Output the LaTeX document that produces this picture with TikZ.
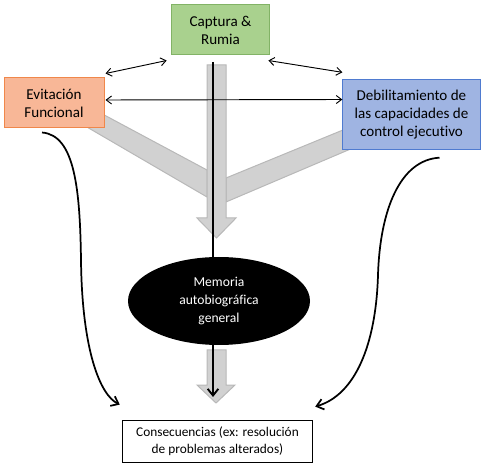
\documentclass[tikz,border=0pt]{standalone}
\usepackage{fontspec}
\setmainfont{Carlito}[Ligatures=CommonOff]
\usetikzlibrary{shapes.geometric,calc,arrows.meta}

\definecolor{capfill}{HTML}{A9D18E}
\definecolor{capline}{HTML}{82B366}
\definecolor{evifill}{HTML}{F8B797}
\definecolor{eviline}{HTML}{F0874A}
\definecolor{debfill}{HTML}{9FB4E2}
\definecolor{debline}{HTML}{4F7BD0}

\begin{document}
\begin{tikzpicture}[x=0.75pt, y=-0.75pt,
  box/.style={draw, line width=0.75pt, align=center, inner sep=2pt,
    font=\fontsize{11.3}{13.5}\selectfont},
  fatarrow/.style={fill=black!18, draw=black!28, line width=0.75pt},
  link/.style={{Straight Barb[length=4pt,width=6pt]}-{Straight Barb[length=4pt,width=6pt]}, line width=0.7pt},
  flow/.style={-{Straight Barb[length=5pt,width=8pt]}, line width=1.3pt}]

  \useasboundingbox (0,0) rectangle (483,467);

  %% ---- Grey block arrows ----
  \draw[fatarrow] (80,102) -- (207,170) -- (207,197) -- (80,123) -- cycle;
  \draw[fatarrow] (360,123) -- (226,178) -- (226,202) -- (360,145) -- cycle;
  \draw[fatarrow] (207,65) -- (226,65) -- (226,218) -- (236,218)
    -- (216.5,238) -- (197,218) -- (207,218) -- cycle;
  \draw[fatarrow] (207,350) -- (226,350) -- (226,385) -- (235,385)
    -- (216,403) -- (197,385) -- (207,385) -- cycle;

  %% ---- Boxes ----
  \node[box, fill=capfill, draw=capline, minimum width=74pt, minimum height=37.5pt]
    (captura) at (220.5,30) {Captura \&\\Rumia};
  \node[box, fill=evifill, draw=eviline, minimum width=75pt, minimum height=37.5pt]
    (evit) at (54,103) {Evitación\\Funcional};
  \node[box, fill=debfill, draw=debline, minimum width=103pt, minimum height=52pt]
    (debil) at (411.5,114.5) {Debilitamiento de\\las capacidades de\\control ejecutivo};
  \node[ellipse, fill=black, text=white, align=center, inner sep=0pt,
    minimum width=136.5pt, minimum height=66pt, font=\fontsize{10.2}{13.5}\selectfont]
    (mem) at (219,301) {Memoria\\autobiográfica\\general};
  \node[box, line width=0.6pt, minimum width=143pt, minimum height=31.5pt,
    font=\fontsize{10}{12.75}\selectfont]
    (conseq) at (217.5,441) {Consecuencias (ex: resolución\\de problemas alterados)};

  %% ---- Central line ----
  \coordinate (ltop) at (213,62);
  \coordinate (lbot) at (213,397);
  \draw[line width=1.4pt] (ltop) -- (ltop |- mem.north);
  \draw[flow, line width=1.4pt] (ltop |- mem.south) -- (lbot);

  %% ---- Mutual links ----
  \draw[link] ($(evit.north east)+(1,-4)$) -- ($(captura.south west)+(-4,5)$);
  \draw[link] ($(captura.south east)+(-2,5)$) -- ($(debil.north west)+(0,-7)$);
  \draw[link] ($(evit.east)+(1,-3)$) -- ($(debil.west)+(0,-15)$);

  %% ---- Side curves ----
  \draw[flow] ($(evit.south)+(-12,4)$) .. controls (75,135) and (80,190) .. (81,260)
    .. controls (82,350) and (100,395) .. ($(conseq.north west)+(-2,-15)$);
  \draw[flow] ($(debil.south)+(28,8)$) .. controls (400,160) and (380,210) .. (378,275)
    .. controls (376,345) and (355,395) .. ($(conseq.north east)+(2,-13)$);

\end{tikzpicture}
\end{document}
